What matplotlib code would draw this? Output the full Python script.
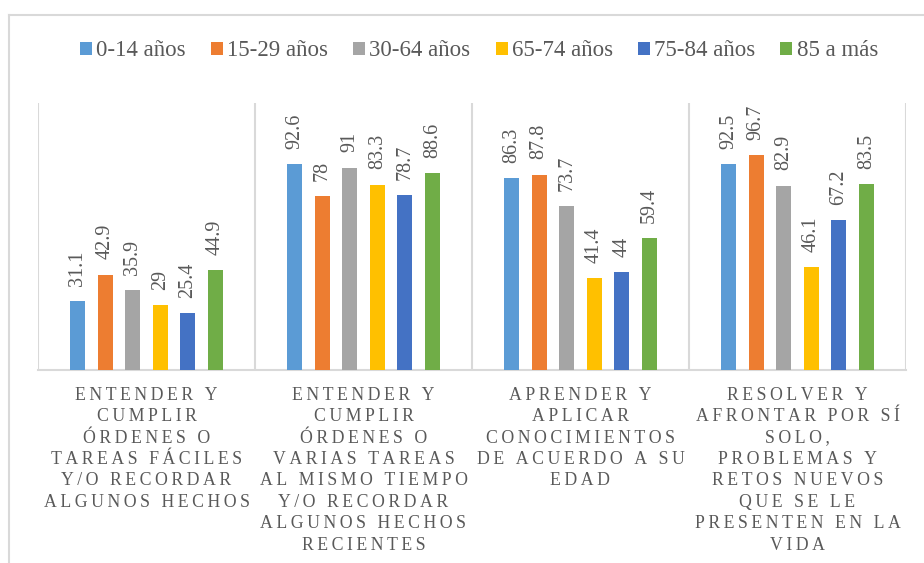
import matplotlib
matplotlib.use("Agg")
import matplotlib.pyplot as plt
from matplotlib.lines import Line2D
from matplotlib.patches import Patch
import numpy as np

categories = [
    "ENTENDER Y\nCUMPLIR\nÓRDENES O\nTAREAS FÁCILES\nY/O RECORDAR\nALGUNOS HECHOS",
    "ENTENDER Y\nCUMPLIR\nÓRDENES O\nVARIAS TAREAS\nAL MISMO TIEMPO\nY/O RECORDAR\nALGUNOS HECHOS\nRECIENTES",
    "APRENDER Y\nAPLICAR\nCONOCIMIENTOS\nDE ACUERDO A SU\nEDAD",
    "RESOLVER Y\nAFRONTAR POR SÍ\nSOLO,\nPROBLEMAS Y\nRETOS NUEVOS\nQUE SE LE\nPRESENTEN EN LA\nVIDA",
]
series_names = ["0-14 años", "15-29 años", "30-64 años", "65-74 años", "75-84 años", "85 a más"]
v_0_14 = [31.1, 92.6, 86.3, 92.5]
v_15_29 = [42.9, 78, 87.8, 96.7]
v_30_64 = [35.9, 91, 73.7, 82.9]
v_65_74 = [29, 83.3, 41.4, 46.1]
v_75_84 = [25.4, 78.7, 44, 67.2]
v_85 = [44.9, 88.6, 59.4, 83.5]
series_values = [v_0_14, v_15_29, v_30_64, v_65_74, v_75_84, v_85]
colors = ["#5B9BD5", "#ED7D31", "#A5A5A5", "#FFC000", "#4472C4", "#70AD47"]

plt.rcParams["font.family"] = ["Liberation Serif"]
TXT = "#595959"
GRID = "#D9D9D9"

def spaced(s):
    out = []
    for line in s.split("\n"):
        out.append("\u2009".join(list(line)))
    return "\n".join(out)

W, H = 924, 563
fig = plt.figure(figsize=(W / 100, H / 100), dpi=100)
ax = fig.add_axes([38 / W, 1 - 370 / H, (906 - 38) / W, (370 - 103) / H])

x = np.arange(len(categories))
step = 0.127
width = 0.069
for i, (vals, col) in enumerate(zip(series_values, colors)):
    pos = x + (i - 2.5) * step
    bars = ax.bar(pos, vals, width=width, color=col, zorder=3)
    for b, v in zip(bars, vals):
        ax.annotate(f"{v:g}", (b.get_x() + b.get_width() / 2, b.get_height()),
                    xytext=(0, 11), textcoords="offset points",
                    rotation=90, ha="center", va="bottom",
                    fontsize=14.5, color=TXT)

ax.set_xlim(-0.5, len(categories) - 0.5)
ax.set_ylim(0, 120)
ax.set_yticks([])
for s in ["top", "right", "left"]:
    ax.spines[s].set_visible(False)
ax.spines["bottom"].set_color(GRID)
ax.spines["bottom"].set_linewidth(1.5)
for xv in np.arange(-0.5, len(categories), 1.0):
    ax.axvline(xv, color=GRID, lw=1.5, zorder=1)

ax.set_xticks(x)
ax.set_xticklabels([spaced(c) for c in categories], fontsize=12.8, color=TXT,
                   linespacing=1.34, va="top")
ax.tick_params(axis="x", length=0, pad=12)

handles = [Patch(facecolor=c, edgecolor="none") for c in colors]
fig.legend(handles, series_names, loc="center", bbox_to_anchor=(479 / W, 1 - 51 / H),
           ncol=6, frameon=False, handlelength=0.52, handleheight=0.52,
           handletextpad=0.18, columnspacing=1.1,
           prop={"size": 16.5}, labelcolor=TXT)

# chart border (top and left visible)
fig.add_artist(Line2D([8.5 / W, 1.0], [1 - 15 / H, 1 - 15 / H], transform=fig.transFigure,
                      color=GRID, lw=1.5))
fig.add_artist(Line2D([8.5 / W, 8.5 / W], [1 - 15 / H, 0.0], transform=fig.transFigure,
                      color=GRID, lw=1.5))

fig.savefig("out.png", dpi=100)
